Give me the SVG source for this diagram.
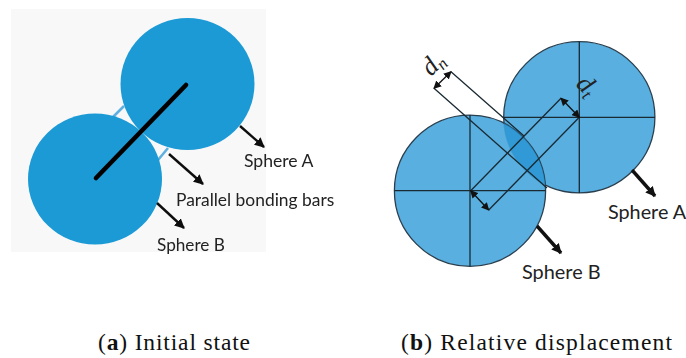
<svg xmlns="http://www.w3.org/2000/svg" width="686" height="358" viewBox="0 0 686 358">
<style>
.lbl{font-family:Lato,"Open Sans",sans-serif;fill:#222}
.cap{font-family:"Liberation Serif",serif;font-size:23.5px;fill:#111}
.a{fill:#1b9ad6}
.b{fill:#4aa8dd;fill-opacity:.92;stroke:#2a3f4e;stroke-width:1.3}
.ln{stroke:#1a2a33;stroke-width:1.3;fill:none}
.arr{stroke:#111;stroke-width:2.4;fill:none}
.arr2{stroke:#111;stroke-width:3.4;fill:none}
.d{stroke:#111;stroke-width:1.3;fill:none;marker-start:url(#ms);marker-end:url(#me)}
.math{font-family:"Liberation Serif",serif;font-style:italic;fill:#222}
</style>
<defs>
<filter id="soft" x="-5%" y="-5%" width="110%" height="110%"><feGaussianBlur stdDeviation="0.6"/></filter>
<marker id="me" viewBox="0 0 8 8" refX="7" refY="4" markerWidth="8" markerHeight="8" markerUnits="userSpaceOnUse" orient="auto"><path d="M0 0L8 4L0 8Z" fill="#111"/></marker>
<marker id="ms" viewBox="0 0 8 8" refX="1" refY="4" markerWidth="8" markerHeight="8" markerUnits="userSpaceOnUse" orient="auto"><path d="M8 0L0 4L8 8Z" fill="#111"/></marker>
<marker id="big" viewBox="0 0 10 10" refX="9" refY="5" markerWidth="10" markerHeight="10" markerUnits="userSpaceOnUse" orient="auto"><path d="M0 0L10 5L0 10Z" fill="#111"/></marker>
</defs>
<rect width="686" height="358" fill="#fff"/>
<rect x="11" y="9" width="255" height="243" fill="#f8f8f8"/>
<g id="panel-a" filter="url(#soft)">
<g id="connectors-a">
<path d="M124 106L113 117M168 148L158 160" stroke="#5fb0e0" stroke-width="2.6" fill="none"/>
</g>
<g id="sphere-a-left"><ellipse class="a" cx="187.5" cy="84" rx="67" ry="66"/></g>
<g id="sphere-b-left"><ellipse class="a" cx="95" cy="179" rx="67" ry="65.5"/></g>
<g id="arrows-a">
<path d="M186 85L96 178" stroke="#000" stroke-width="4.6" fill="none" stroke-linecap="round"/>
<path class="arr" d="M240 126L264 147" marker-end="url(#big)"/>
<path class="arr" d="M169 154L203 184" marker-end="url(#big)"/>
<path class="arr" d="M157 203L184 228" marker-end="url(#big)"/>
</g>
<text class="lbl" x="244" y="166.5" font-size="17.6">Sphere A</text>
<text class="lbl" x="176" y="205.5" font-size="17.4">Parallel bonding bars</text>
<text class="lbl" x="157" y="251" font-size="17.2">Sphere B</text>
</g>
<g id="panel-b">
<g id="sphere-a-right"><circle class="b" cx="579.3" cy="117.3" r="75.6"/></g>
<g id="sphere-b-right"><circle class="b" cx="470" cy="190.7" r="75.6"/></g>
<clipPath id="lens"><circle cx="579.3" cy="117.3" r="75.6"/></clipPath>
<circle cx="470" cy="190.7" r="75.6" fill="#1f8fd0" fill-opacity=".6" clip-path="url(#lens)"/>
<g id="connectors-b">
<path class="ln" d="M579.3 41.7V193M503.7 117.3H655M470 115V266.3M394.4 190.7H545.6"/>
<path class="ln" d="M561 98.3L470.7 190.7M579.3 117.3L488.7 210"/>
<path class="ln" d="M451 71.7L524 136M434 88.3L547 188"/>
<path class="d" d="M451 71.7L434 88.3"/>
<path class="d" d="M561 98.3L579.3 117.3"/>
<path class="d" d="M470.7 190.7L488.7 210"/>
<path class="arr2" d="M632 170L655 196" marker-end="url(#big)"/>
<path class="arr2" d="M537 226L561 253" marker-end="url(#big)"/>
</g>
<text class="math" font-size="26" transform="translate(431 77) rotate(-45)">d<tspan font-size="17" dy="4">n</tspan></text>
<text class="math" font-size="26" transform="translate(575 85) rotate(45)">d<tspan font-size="17" dy="4">t</tspan></text>
<text class="lbl" x="608" y="219" font-size="19.8">Sphere A</text>
<text class="lbl" x="522" y="279" font-size="19.9">Sphere B</text>
</g>
<text class="cap" x="98" y="350" textLength="152">(<tspan font-weight="bold">a</tspan>) Initial state</text>
<text class="cap" x="401" y="350" textLength="271">(<tspan font-weight="bold">b</tspan>) Relative displacement</text>
</svg>
